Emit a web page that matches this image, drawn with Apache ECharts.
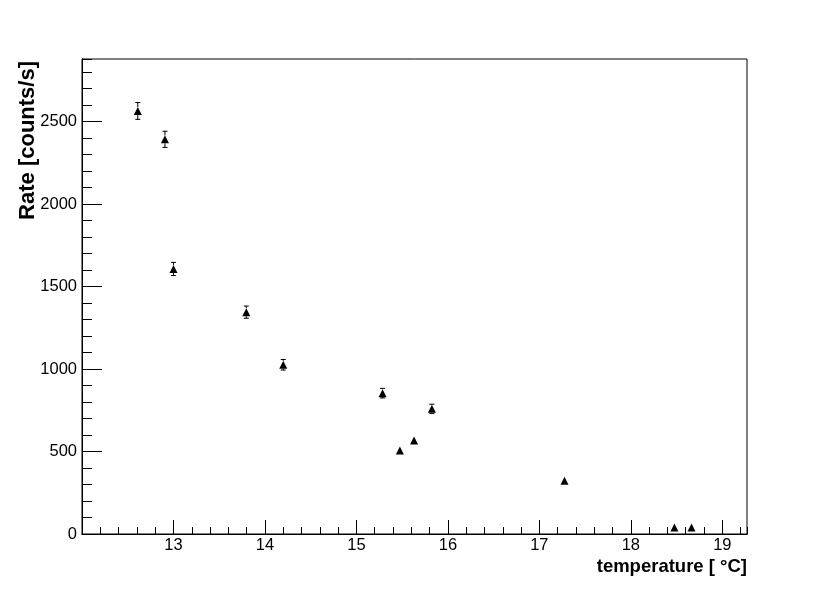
<!DOCTYPE html>
<html>
<head>
<meta charset="utf-8">
<script src="https://cdn.jsdelivr.net/npm/echarts@6/dist/echarts.min.js"></script>
<style>html,body{margin:0;padding:0;background:#fff}#c{width:830px;height:595px}</style>
</head>
<body>
<div id="c"></div>
<script>
// data
var temperature = [12.61, 12.907, 13.0, 13.796, 14.2, 15.286, 15.475, 15.63, 15.825, 17.275, 18.477, 18.663];
var rate        = [2565, 2393, 1607, 1345, 1026, 854, 506, 567, 759, 323, 40, 40];
var rateError   = [51, 49, 40, 37, 32, 29, 22, 24, 28, 18, 6, 6];
var xRange = [12, 19.27];
var yRange = [0, 2880];

var points = temperature.map(function (t, i) { return [t, rate[i]]; });
var bars = temperature.map(function (t, i) { return [t, rate[i] - rateError[i], rate[i] + rateError[i], rate[i]]; });

var FONT = 'Liberation Sans';
var MARK = 8;
var chart = echarts.init(document.getElementById('c'), null, {renderer: 'canvas'});

function axisBase(o) {
  return Object.assign({
    type: 'value',
    axisLine: {show: true, lineStyle: {color: '#000', width: 1}},
    splitLine: {show: false},
    axisTick: {show: true, inside: true, lineStyle: {color: '#000', width: 1}}
  }, o);
}
function plain(v) { return String(v); }

chart.setOption({
  animation: false,
  backgroundColor: '#fff',
  grid: {left: 82, top: 59, right: 83, bottom: 61, show: true, borderColor: '#000', borderWidth: 1, backgroundColor: 'transparent'},
  xAxis: [
    axisBase({
      min: xRange[0], max: xRange[1], interval: 1,
      axisTick: {show: true, inside: true, length: 14, lineStyle: {color: '#000', width: 1}},
      axisLabel: {show: true, color: '#000', fontFamily: FONT, fontSize: 16.5, margin: 3, showMinLabel: false, showMaxLabel: false, formatter: plain},
      name: 'temperature [ \u00B0C]', nameLocation: 'end', nameGap: 0,
      nameTextStyle: {color: '#000', fontFamily: FONT, fontSize: 18.5, fontWeight: 'bold', align: 'right', verticalAlign: 'top', padding: [23, 0, 0, 0]}
    }),
    axisBase({
      min: xRange[0], max: xRange[1], interval: 0.2, position: 'bottom',
      axisTick: {show: true, inside: true, length: 7, lineStyle: {color: '#000', width: 1}},
      axisLabel: {show: false}
    })
  ],
  yAxis: [
    axisBase({
      min: yRange[0], max: yRange[1], interval: 500,
      axisTick: {show: true, inside: true, length: 20, lineStyle: {color: '#000', width: 1}},
      axisLabel: {show: true, color: '#000', fontFamily: FONT, fontSize: 16.5, margin: 5, showMaxLabel: false, formatter: plain}
    }),
    axisBase({
      min: yRange[0], max: yRange[1], interval: 100, position: 'left',
      axisTick: {show: true, inside: true, length: 10, lineStyle: {color: '#000', width: 1}},
      axisLabel: {show: false}
    })
  ],
  graphic: [{
    type: 'text', x: 27.5, y: 61, rotation: Math.PI / 2,
    style: {text: 'Rate [counts/s]', fill: '#000', font: 'bold 22px "Liberation Sans"', textAlign: 'right', textVerticalAlign: 'middle'}
  }],
  series: [
    {
      type: 'custom', xAxisIndex: 0, yAxisIndex: 0, data: bars, silent: true,
      renderItem: function (params, api) {
        var x = api.value(0);
        var lo = api.coord([x, api.value(1)]);
        var hi = api.coord([x, api.value(2)]);
        var c = api.coord([x, api.value(3)]);
        var half = MARK / 2;
        var w = 2.5;
        var s = {stroke: '#000', lineWidth: 1};
        var kids = [];
        // like ROOT: error bars drawn only outside the marker
        if (c[1] - hi[1] > half) {
          kids.push({type: 'line', shape: {x1: c[0], y1: c[1] - half, x2: hi[0], y2: hi[1]}, style: s});
          kids.push({type: 'line', shape: {x1: hi[0] - w, y1: hi[1], x2: hi[0] + w, y2: hi[1]}, style: s});
        }
        if (lo[1] - c[1] > half) {
          kids.push({type: 'line', shape: {x1: c[0], y1: c[1] + half, x2: lo[0], y2: lo[1]}, style: s});
          kids.push({type: 'line', shape: {x1: lo[0] - w, y1: lo[1], x2: lo[0] + w, y2: lo[1]}, style: s});
        }
        return {type: 'group', children: kids};
      }
    },
    {
      type: 'scatter', xAxisIndex: 0, yAxisIndex: 0, data: points,
      symbol: 'triangle', symbolSize: [MARK, MARK],
      itemStyle: {color: '#000', opacity: 1}, silent: true
    }
  ]
});
</script>
</body>
</html>
